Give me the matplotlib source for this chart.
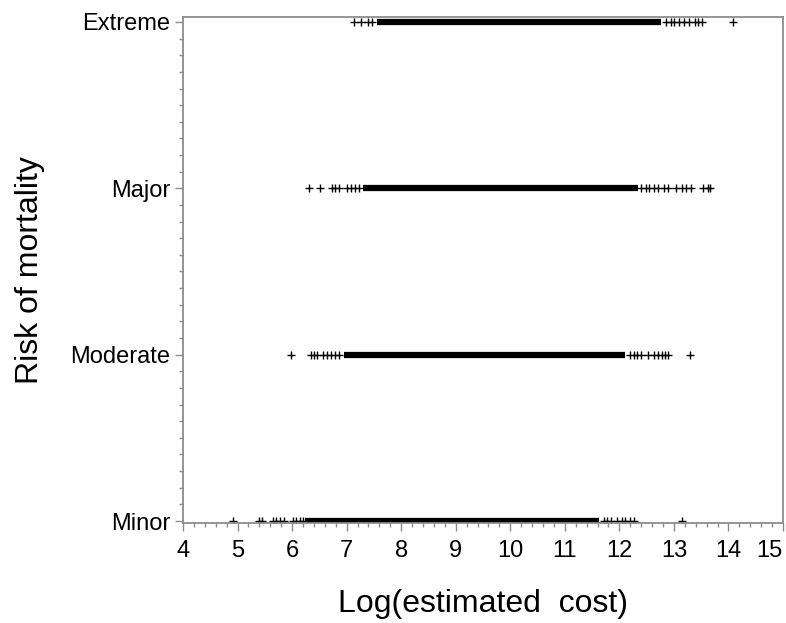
import matplotlib
matplotlib.use("Agg")
import matplotlib.pyplot as plt
from matplotlib.ticker import MultipleLocator

plt.rcParams['font.family'] = ['Liberation Sans', 'DejaVu Sans']

categories = ['Minor', 'Moderate', 'Major', 'Extreme']
x_ticks = list(range(4, 16))

# solid part of each strip (start, end) in log cost
dense_start = [6.24, 6.95, 7.30, 7.55]
dense_end = [11.63, 12.10, 12.35, 12.77]

# single points seen outside the solid part
minor_pts = [4.92, 5.39, 5.45, 5.65, 5.71, 5.78, 5.86, 6.02, 6.08, 6.14, 6.20,
             11.71, 11.78, 11.85, 11.96, 12.04, 12.11, 12.19, 12.26, 13.14]
moderate_pts = [5.98, 6.35, 6.40, 6.46, 6.57, 6.64, 6.72, 6.79, 6.86,
                12.19, 12.26, 12.33, 12.40, 12.52, 12.63, 12.70, 12.79, 12.84, 12.90, 13.30]
major_pts = [6.31, 6.52, 6.74, 6.79, 6.86, 7.01, 7.08, 7.16, 7.23,
             12.40, 12.48, 12.55, 12.63, 12.71, 12.81, 12.90, 13.03, 13.14, 13.23,
             13.32, 13.54, 13.62, 13.67]
extreme_pts = [7.13, 7.26, 7.40, 7.47,
               12.86, 12.94, 13.01, 13.10, 13.19, 13.27, 13.38, 13.45, 13.51, 14.09]
outliers = [minor_pts, moderate_pts, major_pts, extreme_pts]

fig = plt.figure(figsize=(7.86, 6.23), dpi=100)
ax = fig.add_axes([183/786, 100/623, 600/786, 506/623])

for i in range(len(categories)):
    ax.hlines(i, dense_start[i], dense_end[i], color='black', linewidth=4.5)
    ax.plot(outliers[i], [i]*len(outliers[i]), '+', color='black',
            markersize=5.5, markeredgewidth=1.0)

ax.set_xlim(4, 15)
ax.set_ylim(-0.012, 3.03)
ax.set_xticks(x_ticks)
ax.set_xticklabels([str(v) for v in x_ticks])
ax.xaxis.set_minor_locator(MultipleLocator(0.2))
ax.set_yticks(range(len(categories)))
ax.set_yticklabels(categories)
ax.yaxis.set_minor_locator(MultipleLocator(0.1))

frame = '#8c8c8c'
for s in ax.spines.values():
    s.set_color(frame)
    s.set_linewidth(1.3)
ax.tick_params(which='both', color=frame, width=1.0, direction='out')
ax.tick_params(which='major', length=6)
ax.tick_params(which='minor', length=3)
ax.tick_params(axis='x', labelsize=17, pad=6)
ax.tick_params(axis='y', labelsize=17, pad=3)

# last x label sits at the right edge, keep it inside the figure
ax.get_xticklabels()[-1].set_horizontalalignment('right')

ax.set_xlabel('Log(estimated  cost)', fontsize=23, labelpad=20)
ax.set_ylabel('Risk of mortality', fontsize=23, labelpad=18)

fig.savefig('out.png', dpi=100)
